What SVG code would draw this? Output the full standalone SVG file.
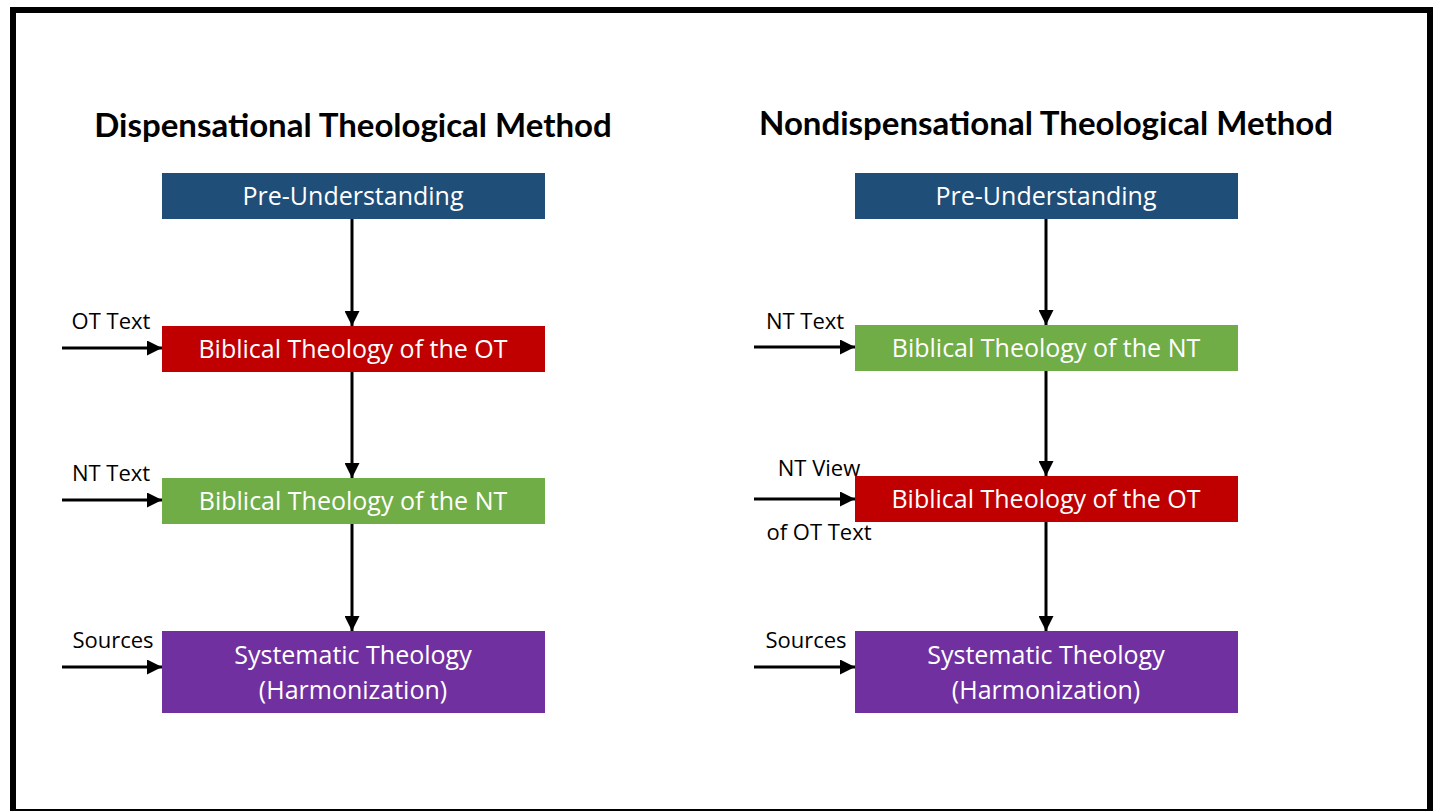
<svg xmlns="http://www.w3.org/2000/svg" width="1435" height="811" viewBox="0 0 1435 811">
<defs>
<marker id="ah" viewBox="0 0 10 10" refX="10" refY="5" markerWidth="5" markerHeight="5" orient="auto" markerUnits="strokeWidth">
<path d="M0,0 L10,5 L0,10 z" fill="#000"/>
</marker>
<style>
.t{font-family:Lato,"Open Sans","Liberation Sans",sans-serif;font-weight:bold;font-size:33px;fill:#000;text-anchor:middle}
.bx{font-family:"Open Sans",Lato,"Liberation Sans",sans-serif;font-size:25px;fill:#fff;text-anchor:middle}
.lb{font-family:"Open Sans",Lato,"Liberation Sans",sans-serif;font-size:22px;fill:#000;text-anchor:middle}
.c{stroke:#000;stroke-width:3;fill:none;marker-end:url(#ah)}
</style>
</defs>
<rect x="0" y="0" width="1435" height="811" fill="#fff"/>
<rect x="13" y="10" width="1417" height="802" fill="none" stroke="#000" stroke-width="6"/>
<text class="t" x="353" y="137">Dispensational Theological Method</text>
<text class="t" x="1046" y="135">Nondispensational Theological Method</text>
<g id="connectors">
<line class="c" x1="352" y1="219" x2="352" y2="326"/>
<line class="c" x1="352" y1="372" x2="352" y2="478"/>
<line class="c" x1="352" y1="524" x2="352" y2="631"/>
<line class="c" x1="62" y1="348" x2="162" y2="348"/>
<line class="c" x1="62" y1="500" x2="162" y2="500"/>
<line class="c" x1="62" y1="667" x2="162" y2="667"/>
<line class="c" x1="1046" y1="219" x2="1046" y2="325"/>
<line class="c" x1="1046" y1="371" x2="1046" y2="476"/>
<line class="c" x1="1046" y1="522" x2="1046" y2="631"/>
<line class="c" x1="754" y1="347" x2="855" y2="347"/>
<line class="c" x1="754" y1="499" x2="855" y2="499"/>
<line class="c" x1="754" y1="667" x2="855" y2="667"/>
</g>
<g id="labels">
<text class="lb" x="111" y="329">OT Text</text>
<text class="lb" x="111" y="481">NT Text</text>
<text class="lb" x="113" y="648">Sources</text>
<text class="lb" x="805" y="329">NT Text</text>
<text class="lb" x="819" y="476">NT View</text>
<text class="lb" x="819" y="540">of OT Text</text>
<text class="lb" x="806" y="648">Sources</text>
</g>
<g id="L-pre"><rect x="162" y="173" width="383" height="46" fill="#1F4E79"/><text class="bx" x="353" y="205">Pre-Understanding</text></g>
<g id="L-ot"><rect x="162" y="326" width="383" height="46" fill="#C00000"/><text class="bx" x="353" y="358">Biblical Theology of the OT</text></g>
<g id="L-nt"><rect x="162" y="478" width="383" height="46" fill="#70AD47"/><text class="bx" x="353" y="510">Biblical Theology of the NT</text></g>
<g id="L-sys"><rect x="162" y="631" width="383" height="82" fill="#7030A0"/><text class="bx" x="353" y="664">Systematic Theology</text><text class="bx" x="353" y="699">(Harmonization)</text></g>
<g id="R-pre"><rect x="855" y="173" width="383" height="46" fill="#1F4E79"/><text class="bx" x="1046" y="205">Pre-Understanding</text></g>
<g id="R-nt"><rect x="855" y="325" width="383" height="46" fill="#70AD47"/><text class="bx" x="1046" y="357">Biblical Theology of the NT</text></g>
<g id="R-ot"><rect x="855" y="476" width="383" height="46" fill="#C00000"/><text class="bx" x="1046" y="508">Biblical Theology of the OT</text></g>
<g id="R-sys"><rect x="855" y="631" width="383" height="82" fill="#7030A0"/><text class="bx" x="1046" y="664">Systematic Theology</text><text class="bx" x="1046" y="699">(Harmonization)</text></g>
</svg>
